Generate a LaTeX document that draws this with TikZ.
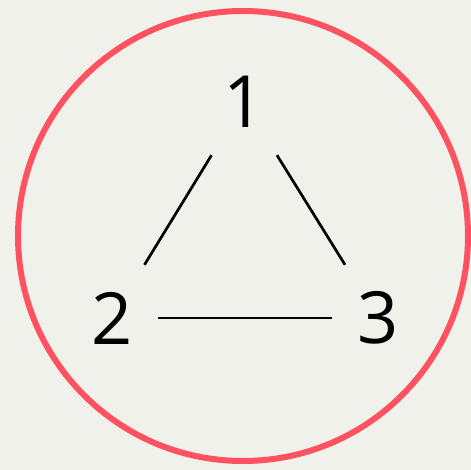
\documentclass[tikz,border=0pt]{standalone}
\usepackage{fontspec}
\setmainfont{Open Sans}
\definecolor{paper}{RGB}{241,241,236}
\definecolor{ring}{RGB}{255,82,96}
\definecolor{ink}{RGB}{0,0,0}
\usetikzlibrary{positioning}

\begin{document}
\begin{tikzpicture}[x=1pt, y=-1pt,
    vertex/.style={inner sep=0pt, minimum width=92pt, minimum height=106pt,
      font=\fontsize{72}{72}\selectfont, text=ink},
    edge/.style={ink, line width=2.7pt}]

        \fill[paper] (0,0) rectangle (471,470);
        \useasboundingbox (0,0) rectangle (471,470);
        \draw[ring, line width=6pt] (243,236) circle[radius=225];

        \node[vertex] (v1) at (244,102) {1};
        \node[vertex] (v2) at (112,318) {2};
        \node[vertex] (v3) at (378,318) {3};

        \draw[edge] (v1) -- (v2);
        \draw[edge] (v1) -- (v3);
        \draw[edge] (v2) -- (v3);
      \end{tikzpicture}
\end{document}
